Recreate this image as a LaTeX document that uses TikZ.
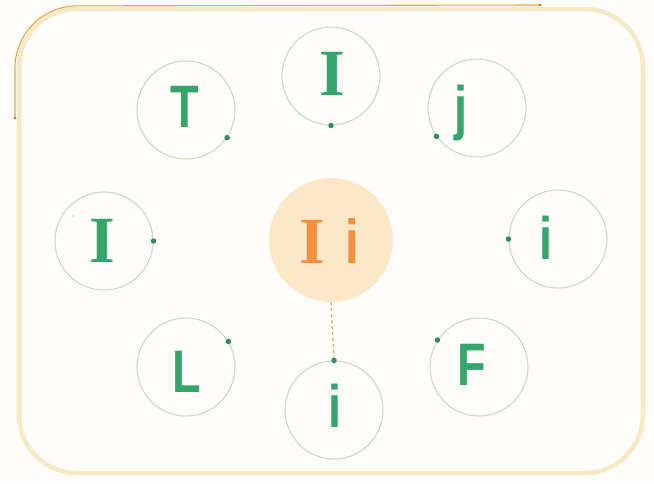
\documentclass[tikz,border=0pt]{standalone}
\usepackage{fontspec}
\newfontfamily\glsans[FakeStretch=0.78]{Liberation Sans}
\newfontfamily\glserif{Liberation Serif}
\begin{document}
\begin{tikzpicture}[x=1pt,y=-1pt,
  ring/.style={circle,draw=ringcol,line width=1.1pt,minimum size=98pt,inner sep=0pt},
  letter/.style={anchor=base,inner sep=0pt,text=lettergreen,font=\glsans\bfseries\fontsize{60}{60}\selectfont},
  sletter/.style={anchor=base,inner sep=0pt,text=lettergreen,font=\glserif\bfseries\fontsize{66}{66}\selectfont},
  gdot/.style={circle,fill=dotgreen,inner sep=0pt,minimum size=5.5pt},
]
\definecolor{bgcol}{HTML}{FFFDFA}
\definecolor{framecol}{HTML}{F7E8C6}
\definecolor{orangeline}{HTML}{E9A64A}
\definecolor{ringcol}{HTML}{C4DCC4}
\definecolor{lettergreen}{HTML}{35A56C}
\definecolor{dotgreen}{HTML}{2F8E5C}
\definecolor{centerfill}{HTML}{FCE8C9}
\definecolor{centertext}{HTML}{F2903F}
\definecolor{dashcol}{HTML}{D7A968}
\useasboundingbox (0,0) rectangle (654,483);
\fill[bgcol] (0,0) rectangle (654,483);
% frame
\draw[framecol,line width=4.5pt,rounded corners=58pt] (19,9) rectangle (643,473);
% orange line on top-left
\coordinate (oa) at (15,118);
\coordinate (ob) at (540,5);
\draw[orangeline,line width=1.1pt,rounded corners=62pt] (oa) -- (15,6) -- (ob);
\fill[orangeline!80!black] (oa) circle (1.6pt);
\fill[orangeline!80!black] (ob) circle (1.6pt);
% center
\node[circle,fill=centerfill,minimum size=124pt,inner sep=0pt] (c) at (331,240) {};
\node[anchor=base,inner sep=0pt,text=centertext,font=\glserif\bfseries\fontsize{66}{66}\selectfont] (ct) at (329,263) {I\hspace{20pt}{\glsans\bfseries\fontsize{62}{62}\selectfont i}};
% rings
\node[ring] (rT) at (186,110) {};
\node[ring] (rI1) at (331,76) {};
\node[ring] (rj) at (477,108) {};
\node[ring] (rI2) at (104,241) {};
\node[ring] (ri1) at (558,239) {};
\node[ring] (rL) at (186,367) {};
\node[ring] (rF) at (479,367) {};
\node[ring] (ri2) at (334,410) {};
% letters
\node[letter] (tT) at (185,127) {T};
\node[sletter] (tI1) at (332,95) {I};
\node[letter] (tj) at (461,128) {j};
\node[sletter] (tI2) at (102,262) {I};
\node[letter] (ti1) at (546,259) {i};
\node[letter] (tL) at (187,392) {L};
\node[letter] (tF) at (472,385) {F};
\node[letter] (ti2) at (335,427) {i};
% dots on rings
\node[gdot] (dT) at (rT.-34) {};
\node[gdot] (dI1) at (rI1.-90) {};
\node[gdot] (dj) at (rj.-145) {};
\node[gdot] (dI2) at (rI2.0) {};
\node[gdot] (di1) at (ri1.180) {};
\node[gdot] (dL) at (rL.31) {};
\node[gdot] (dF) at (rF.147) {};
\node[gdot] (di2) at (ri2.90) {};
% small yellow dot
\fill[yellow!70!orange!60] (73,216) circle (1.3pt);
% dashed connector
\draw[dashcol,line width=1.3pt,dash pattern=on 3pt off 3pt] (c.south) -- (di2.north);
\end{tikzpicture}
\end{document}
